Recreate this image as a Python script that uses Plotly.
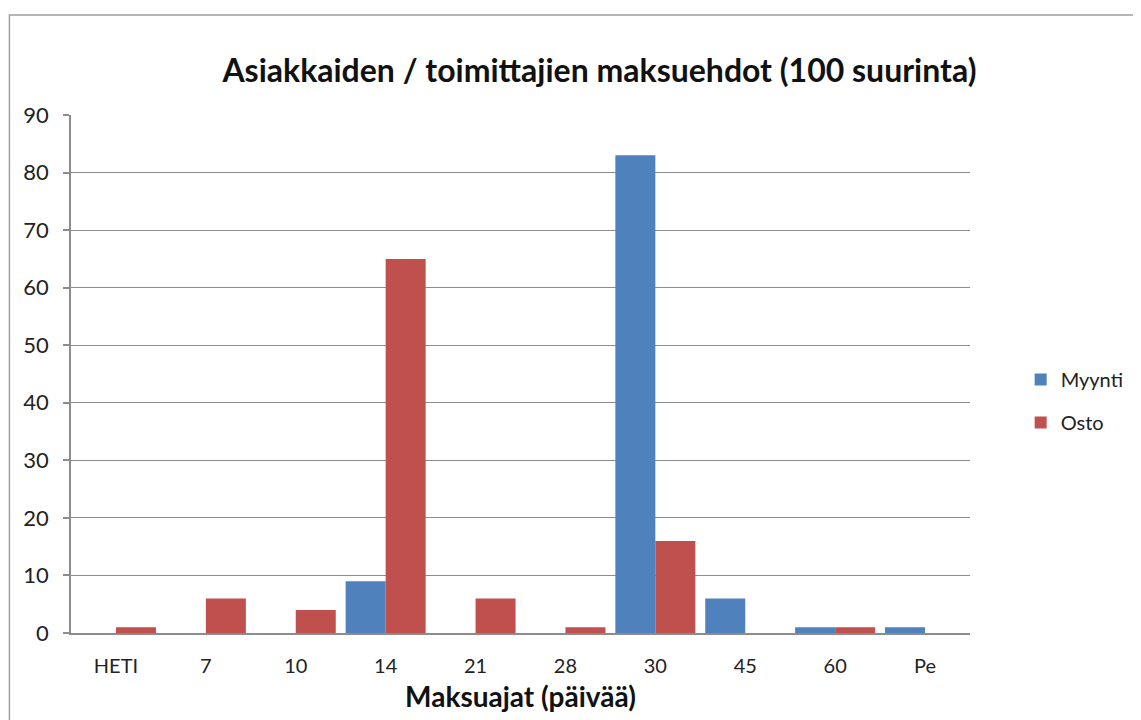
import plotly.graph_objects as go

categories = ["HETI", "7", "10", "14", "21", "28", "30", "45", "60", "Pe"]
myynti = [0, 0, 0, 9, 0, 0, 83, 6, 1, 1]
osto = [1, 6, 4, 65, 6, 1, 16, 0, 1, 0]
y_ticks = [0, 10, 20, 30, 40, 50, 60, 70, 80, 90]

FONT = "Lato, 'Open Sans', sans-serif"
BLUE = "#4F81BD"
RED = "#C0504D"
GRID = "#8C8C8C"

fig = go.Figure()
fig.add_trace(go.Bar(x=categories, y=myynti, name="Myynti", marker_color=BLUE,
                     marker_line_width=0, legendgroup="a"))
fig.add_trace(go.Bar(x=categories, y=osto, name="Osto", marker_color=RED,
                     marker_line_width=0, legendgroup="b"))

L, R = 63, 165
plot_w = 1133 - L - R

fig.update_layout(
    width=1133, height=712,
    paper_bgcolor="white", plot_bgcolor="white",
    margin=dict(l=L, r=R, t=107, b=87),
    barmode="group", bargap=0.11, bargroupgap=0,
    font=dict(family=FONT, color="#222222"),
    title=dict(text="<b>Asiakkaiden / toimittajien maksuehdot (100 suurinta)</b>",
               x=0.522, xanchor="center", xref="container",
               y=0.912, yanchor="middle", yref="container",
               font=dict(family=FONT, size=32, color="#111111")),
    xaxis=dict(
        type="category",
        showline=True, linecolor=GRID, linewidth=1.5,
        ticks="", showgrid=False,
        tickfont=dict(size=20, color="#222222"),
        ticklabelstandoff=14,
        title=dict(text="<b>Maksuajat (päivää)</b>", standoff=12,
                   font=dict(size=28, color="#111111")),
    ),
    yaxis=dict(
        range=[0, 90], tickvals=y_ticks,
        showline=True, linecolor=GRID, linewidth=1.5,
        ticks="outside", ticklen=6, tickcolor=GRID, tickwidth=1.5,
        showgrid=True, gridcolor=GRID, gridwidth=1,
        zeroline=False,
        ticklabelstandoff=10,
        tickfont=dict(size=22, color="#222222"),
    ),
    legend=dict(
        x=(1027 - 8 - L) / plot_w, xanchor="left",
        y=0.448, yanchor="middle",
        font=dict(size=20, color="#222222"),
        traceorder="grouped", tracegroupgap=14,
        itemwidth=30, bgcolor="rgba(0,0,0,0)",
    ),
    shapes=[dict(type="rect", xref="paper", yref="paper",
                 x0=(1 - L) / plot_w, x1=1.3, y0=-0.5, y1=1.193,
                 line=dict(color="#A0A0A0", width=1.5), layer="below")],
)

fig.write_html("out.html")
